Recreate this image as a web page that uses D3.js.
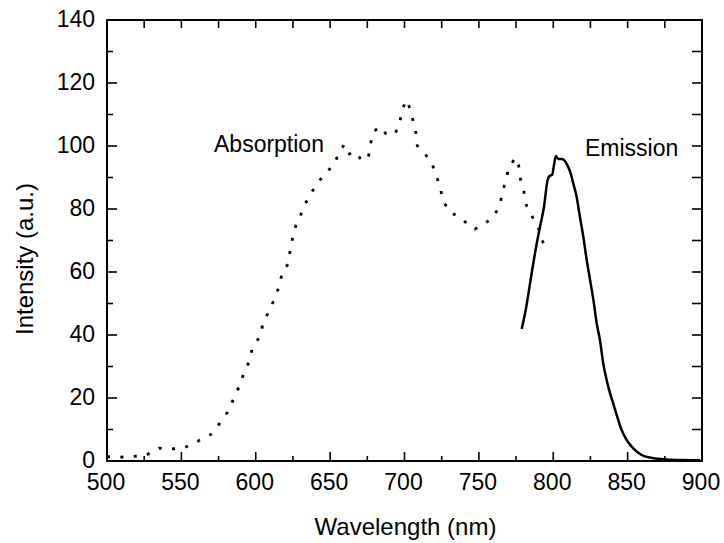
<!DOCTYPE html>
<html>
<head>
<meta charset="utf-8">
<script src="https://cdn.jsdelivr.net/npm/d3@7"></script>
<style>
  html, body { margin: 0; padding: 0; background: #fff; }
  svg { display: block; }
  text { font-family: "Liberation Sans", Arial, Helvetica, sans-serif; fill: #000; }
</style>
</head>
<body>
<svg id="chart" width="724" height="543"></svg>
<script>
// ---- Data ----
const absWavelength = [500, 509, 518, 526, 535, 543.5, 552, 561, 570, 575.5, 581, 585, 589, 592, 595.7, 597.7,
  603, 605, 609, 612.5, 616, 617.6, 621.7, 623, 624.8, 627, 630, 632.6, 636, 641, 647, 652, 656, 659.5,
  663, 666.7, 671.6, 675.7, 677, 679, 683.5, 687.3, 693, 696.3, 698, 700.8, 703, 705.5, 707.7, 708.6,
  711.8, 717.8, 721, 723.9, 725.6, 730, 736.4, 741.8, 747.2, 753.6, 759.3, 763.5, 765.5, 767.8, 770,
  774.5, 776.8, 778, 780.3, 782.1, 785.5, 789.7, 792.2, 797.1];
const absIntensity = [1.4, 1.2, 1.5, 1.8, 4.1, 3.8, 4.2, 6.3, 8.5, 11.8, 15.5, 19.6, 23.8, 27.8, 31.7, 35.8,
  39.7, 43.9, 47.7, 51.4, 55.7, 59.6, 62.5, 66.4, 70.9, 74.9, 77.8, 81, 84.1, 87.9, 91.5, 93.7, 97.7, 100.5,
  97.5, 98.2, 95.3, 96.4, 100.3, 104.5, 106.1, 104, 103.5, 106.3, 110.4, 114.6, 112.7, 108.5, 104.2, 100.1,
  98.4, 95.3, 91.1, 87.1, 83.1, 79.1, 77.6, 75.5, 73.6, 75.2, 77.4, 80.4, 84.4, 88.7, 92.9,
  96.3, 93.7, 89.4, 85.4, 81, 77.8, 74.7, 70.2, 66.4];

const emWavelength = [778.8, 781.7, 784.4, 786.6, 787.7, 791.1, 793.8, 796.2, 797.8, 799.3, 800.5, 801.8,
  803.4, 805.6, 807.2, 809.4, 811.7, 813.4, 815.7, 817.9, 820.2, 822.5, 824.7, 827, 829.2, 831.4, 833.6,
  835.9, 837.6, 840.3, 843, 846, 849.3, 853.8, 859.4, 867.3, 876.2, 887.4, 898.7];
const emIntensity = [41.9, 48.5, 56.4, 62.8, 65.9, 74.4, 80.7, 89.2, 90.6, 90.8, 94, 96.8,
  95.9, 95.9, 95.6, 94, 91.3, 88.2, 83.9, 77.6, 71.2, 63.8, 57.6, 51.1, 43.7, 38.4, 31,
  25.7, 22.5, 18.3, 14.1, 9.8, 6.7, 4, 1.9, 0.9, 0.5, 0.3, 0.2];

const xTicks = [500, 550, 600, 650, 700, 750, 800, 850, 900];
const yTicks = [0, 20, 40, 60, 80, 100, 120, 140];
const xLabel = "Wavelength (nm)";
const yLabel = "Intensity (a.u.)";
const seriesLabels = ["Absorption", "Emission"];

// ---- Layout ----
const L = 107, R = 702, T = 20, B = 461;
const svg = d3.select("#chart");
const x = d3.scaleLinear().domain([500, 900]).range([L, R]);
const y = d3.scaleLinear().domain([0, 140]).range([B, T]);

const fs = 23;

// frame
svg.append("rect").attr("x", L).attr("y", T).attr("width", R - L).attr("height", B - T)
  .attr("fill", "none").attr("stroke", "#000").attr("stroke-width", 2);

// bottom ticks (major + minor), inward
const xMinor = d3.range(525, 900, 50);
const gx = svg.append("g");
gx.selectAll("line.maj").data(xTicks).join("line")
  .attr("x1", d => x(d)).attr("x2", d => x(d)).attr("y1", B).attr("y2", B - 9)
  .attr("stroke", "#000").attr("stroke-width", 1.6);
gx.selectAll("line.min").data(xMinor).join("line")
  .attr("x1", d => x(d)).attr("x2", d => x(d)).attr("y1", B).attr("y2", B - 5)
  .attr("stroke", "#000").attr("stroke-width", 1.6);
gx.selectAll("text").data(xTicks).join("text")
  .attr("x", d => x(d) - 1).attr("y", 490).attr("text-anchor", "middle")
  .attr("font-size", fs).text(d => d);

// top ticks
svg.append("g").selectAll("line").data(xTicks.concat(xMinor)).join("line")
  .attr("x1", d => x(d)).attr("x2", d => x(d)).attr("y1", T).attr("y2", T + 8)
  .attr("stroke", "#000").attr("stroke-width", 1.6);

// left ticks
const yMinor = d3.range(10, 140, 20);
const gy = svg.append("g");
gy.selectAll("line.maj").data(yTicks).join("line")
  .attr("x1", L).attr("x2", L + 10).attr("y1", d => y(d)).attr("y2", d => y(d))
  .attr("stroke", "#000").attr("stroke-width", 1.6);
gy.selectAll("line.min").data(yMinor).join("line")
  .attr("x1", L).attr("x2", L + 6).attr("y1", d => y(d)).attr("y2", d => y(d))
  .attr("stroke", "#000").attr("stroke-width", 1.6);
gy.selectAll("text").data(yTicks).join("text")
  .attr("x", 95).attr("y", d => y(d) + 7).attr("text-anchor", "end")
  .attr("font-size", fs).text(d => d);

// right ticks
svg.append("g").selectAll("line").data(yTicks.concat(yMinor)).join("line")
  .attr("x1", R).attr("x2", R - 10).attr("y1", d => y(d)).attr("y2", d => y(d))
  .attr("stroke", "#000").attr("stroke-width", 1.6);

// axis titles
svg.append("text").attr("x", (L + R) / 2 + 1).attr("y", 535).attr("text-anchor", "middle")
  .attr("font-size", 24).text(xLabel);
svg.append("text").attr("transform", "translate(33,259) rotate(-90)").attr("text-anchor", "middle")
  .attr("font-size", 24).text(yLabel);

// series
const line = d3.line().x(d => x(d[0])).y(d => y(d[1]));
const absData = absWavelength.map((w, i) => [w, absIntensity[i]]);
const emData = emWavelength.map((w, i) => [w, emIntensity[i]]);

svg.append("path").datum(absData).attr("d", line)
  .attr("fill", "none").attr("stroke", "#000").attr("stroke-width", 2.8)
  .attr("stroke-dasharray", "3,10.4");

svg.append("path").datum(emData).attr("d", line.curve(d3.curveMonotoneX))
  .attr("fill", "none").attr("stroke", "#000").attr("stroke-width", 2.5)
  .attr("stroke-linejoin", "round");

// labels
svg.append("text").attr("x", 214).attr("y", 152).attr("font-size", fs).text(seriesLabels[0]);
svg.append("text").attr("x", 585).attr("y", 156).attr("font-size", fs).text(seriesLabels[1]);
</script>
</body>
</html>
